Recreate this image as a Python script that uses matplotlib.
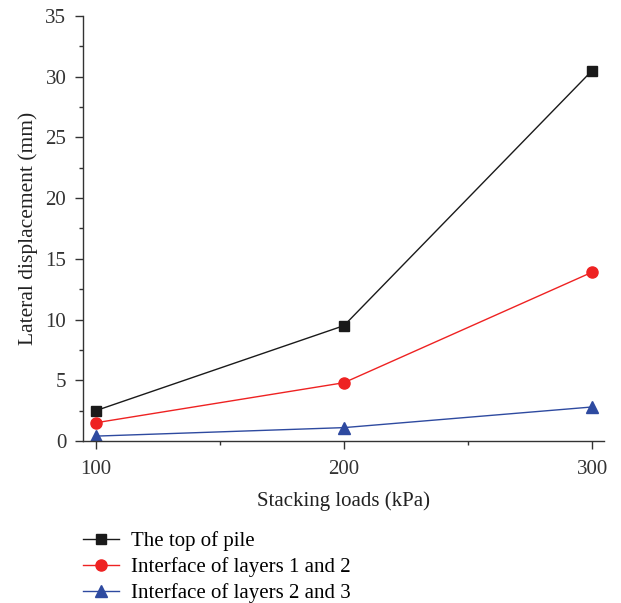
import matplotlib
matplotlib.use("Agg")
import matplotlib.pyplot as plt
from matplotlib.ticker import MultipleLocator

plt.rcParams['font.family'] = ['Liberation Serif', 'DejaVu Serif']

loads = [100, 200, 300]
top_of_pile = [2.5, 9.5, 30.5]
interface_12 = [1.5, 4.8, 13.9]
interface_23 = [0.4, 1.1, 2.8]

fig = plt.figure(figsize=(6.21, 6.03), dpi=100)
ax = fig.add_axes([0.1337, 0.2687, 0.8389, 0.7048])

ax.plot(loads, top_of_pile, color='#1a1a1a', lw=1.0, marker='s', ms=6.5,
        label='The top of pile')
ax.plot(loads, interface_12, color='#ee2222', lw=1.0, marker='o', ms=8,
        label='Interface of layers 1 and 2')
ax.plot(loads, interface_23, color='#2e4aa0', lw=1.0, marker='^', ms=8.5,
        label='Interface of layers 2 and 3')

ax.set_xlim(94.8, 304.8)
ax.set_ylim(0, 35)
ax.xaxis.set_major_locator(MultipleLocator(100))
ax.xaxis.set_minor_locator(MultipleLocator(50))
ax.yaxis.set_major_locator(MultipleLocator(5))
ax.yaxis.set_minor_locator(MultipleLocator(2.5))

for s in ('top', 'right'):
    ax.spines[s].set_visible(False)
for s in ('left', 'bottom'):
    ax.spines[s].set_color('#333333')
    ax.spines[s].set_linewidth(1.0)

ax.tick_params(which='both', direction='out', color='#333333', width=1.0)
ax.tick_params(which='major', length=5.5, labelsize=15, colors='#333333')
ax.tick_params(which='minor', length=3)
ax.tick_params(axis='x', which='major', pad=8)
ax.tick_params(axis='y', which='major', pad=6.5)

ax.set_xlabel('Stacking loads (kPa)', fontsize=15, color='#222222', labelpad=9)
ax.set_ylabel('Lateral displacement (mm)', fontsize=15.5, color='#222222', labelpad=5)

handles, labels = ax.get_legend_handles_labels()
fig.legend(handles, labels, loc='upper left', bbox_to_anchor=(0.134, 0.119),
           frameon=False, fontsize=15, handlelength=1.7, handletextpad=0.6,
           labelspacing=0.3, borderaxespad=0, borderpad=0)

fig.savefig('out.png', dpi=100)
